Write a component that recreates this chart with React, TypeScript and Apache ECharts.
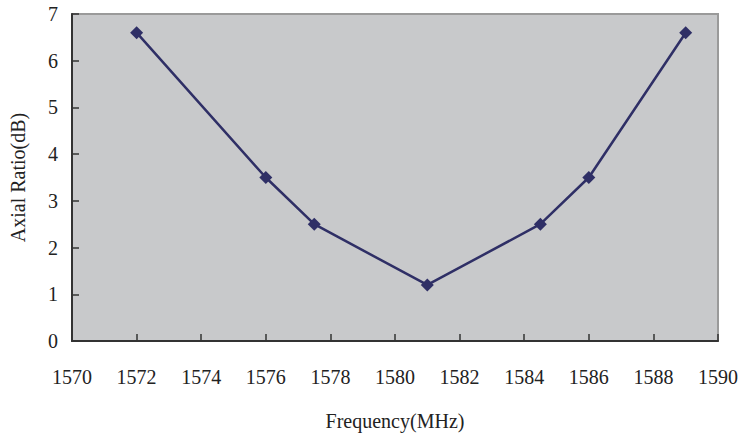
import React, { useEffect, useRef } from "react";
import * as echarts from "echarts";

const frequencies = [1572, 1576, 1577.5, 1581, 1584.5, 1586, 1589];
const axialRatio = [6.6, 3.5, 2.5, 1.2, 2.5, 3.5, 6.6];
const xAxisName = "Frequency(MHz)";
const yAxisName = "Axial Ratio(dB)";

export default function App() {
  const ref = useRef<HTMLDivElement>(null);
  useEffect(() => {
    if (!ref.current) return;
    const chart = echarts.init(ref.current, undefined, { renderer: "svg" });
    const font = "Liberation Serif";
    chart.setOption({
      animation: false,
      backgroundColor: "#ffffff",
      textStyle: { fontFamily: font },
      grid: {
        left: 71,
        right: 24,
        top: 14,
        bottom: 91,
        show: true,
        backgroundColor: "#c8c9cb",
        borderColor: "#9a9a9a",
        borderWidth: 2,
      },
      xAxis: {
        type: "value",
        min: 1570,
        max: 1590,
        interval: 2,
        name: xAxisName,
        nameLocation: "middle",
        nameGap: 70,
        nameTextStyle: { fontFamily: font, fontSize: 20, color: "#222" },
        axisLine: { show: true, lineStyle: { color: "#333", width: 2 } },
        axisTick: { show: true, inside: true, length: 7, lineStyle: { color: "#333", width: 1.5 } },
        axisLabel: {
          margin: 26,
          fontFamily: font,
          fontSize: 20,
          color: "#222",
          formatter: (v: number) => String(v),
        },
        splitLine: { show: false },
      },
      yAxis: {
        type: "value",
        min: 0,
        max: 7,
        interval: 1,
        name: yAxisName,
        nameLocation: "middle",
        nameGap: 44,
        nameTextStyle: { fontFamily: font, fontSize: 20, color: "#222" },
        axisLine: { show: true, lineStyle: { color: "#333", width: 2 } },
        axisTick: { show: true, inside: true, length: 7, lineStyle: { color: "#333", width: 1.5 } },
        axisLabel: {
          margin: 14,
          fontFamily: font,
          fontSize: 20,
          color: "#222",
          formatter: (v: number) => String(v),
        },
        splitLine: { show: false },
      },
      series: [
        {
          type: "line",
          data: frequencies.map((f, i) => [f, axialRatio[i]]),
          symbol: "diamond",
          symbolSize: 13,
          lineStyle: { color: "#2f2f66", width: 2.5 },
          itemStyle: { color: "#2f2f66" },
        },
      ],
    });
    return () => chart.dispose();
  }, []);
  return (
    <div
      ref={ref}
      style={{ position: "fixed", left: 0, top: 0, width: 742, height: 436 }}
    />
  );
}
